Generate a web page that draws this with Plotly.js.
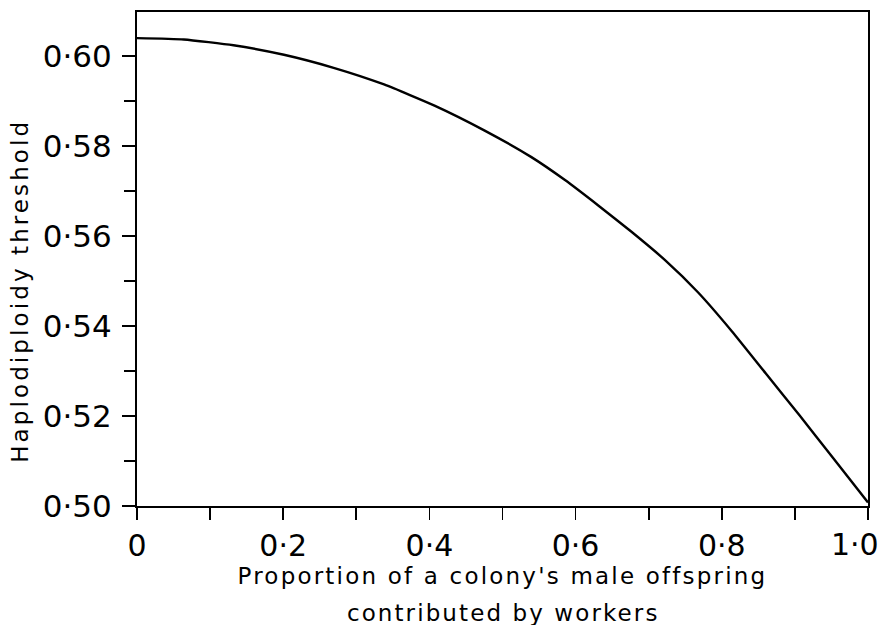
<!DOCTYPE html>
<html>
<head>
<meta charset="utf-8">
<script src="https://cdn.plot.ly/plotly-3.0.1.min.js"></script>
<style>
  html, body { margin: 0; padding: 0; background: #fff; }
  #chart { width: 884px; height: 625px; }
  .xtitle { letter-spacing: 2.2px; }
  g.annotation[data-index="0"] text { letter-spacing: 2.1px; }
  g.annotation[data-index="1"] text { letter-spacing: 3.1px; }
</style>
</head>
<body>
<div id="chart"></div>
<script>
// Proportion of a colony's male offspring contributed by workers
const workerShare = [0, 0.064, 0.132, 0.201, 0.269, 0.338, 0.407, 0.475, 0.539, 0.585, 0.631, 0.676, 0.722, 0.768, 0.814, 0.860, 0.906, 0.952, 1.0];
// Haplodiploidy threshold
const threshold = [0.6040, 0.6037, 0.6024, 0.6003, 0.5974, 0.5937, 0.5890, 0.5835, 0.5776, 0.5725, 0.5668, 0.5610, 0.5547, 0.5474, 0.5388, 0.5295, 0.5202, 0.5107, 0.5008];

const xTickVals = [0, 0.2, 0.4, 0.6, 0.8, 1.0];
const xTickText = ['0', '0·2', '0·4', '0·6', '0·8', '1·0'];
const yTickVals = [0.50, 0.52, 0.54, 0.56, 0.58, 0.60];
const yTickText = ['0·50', '0·52', '0·54', '0·56', '0·58', '0·60'];

const xTitle = "Proportion of a colony's male offspring";
const xTitle2 = 'contributed by workers';
const yTitle = 'Haplodiploidy threshold';

const FONT = 'DejaVu Sans, Liberation Sans, sans-serif';

// The last x tick label sits at the right edge of the page; it is drawn as an
// annotation anchored to the axis value so it stays inside the picture.
const nLast = xTickVals.length - 1;

const trace = {
  x: workerShare,
  y: threshold,
  type: 'scatter',
  mode: 'lines',
  line: { color: '#000', width: 2.4, shape: 'spline', smoothing: 0.5 },
  hoverinfo: 'x+y'
};

const layout = {
  width: 884,
  height: 625,
  margin: { l: 137, r: 16, t: 12, b: 119 },
  paper_bgcolor: '#fff',
  plot_bgcolor: '#fff',
  showlegend: false,
  font: { family: FONT, color: '#000' },
  xaxis: {
    range: [0, 1],
    tickmode: 'array',
    tickvals: xTickVals.slice(0, nLast),
    ticktext: xTickText.slice(0, nLast),
    ticks: 'outside',
    ticklen: 12,
    tickwidth: 1.6,
    tickcolor: '#000',
    minor: { dtick: 0.1, ticks: 'outside', ticklen: 12, tickwidth: 1.6, tickcolor: '#000' },
    showline: true,
    linecolor: '#000',
    linewidth: 2,
    mirror: true,
    showgrid: false,
    zeroline: false,
    tickfont: { family: FONT, size: 30, color: '#000' },
    ticklabelstandoff: 0,
    title: { text: xTitle, font: { family: FONT, size: 23, color: '#000' }, standoff: 1 }
  },
  yaxis: {
    range: [0.5, 0.6098],
    tickmode: 'array',
    tickvals: yTickVals,
    ticktext: yTickText,
    ticks: 'outside',
    ticklen: 13,
    tickwidth: 1.6,
    tickcolor: '#000',
    minor: { dtick: 0.01, ticks: 'outside', ticklen: 11, tickwidth: 1.6, tickcolor: '#000' },
    showline: true,
    linecolor: '#000',
    linewidth: 2,
    mirror: true,
    showgrid: false,
    zeroline: false,
    tickfont: { family: FONT, size: 31, color: '#000' },
    ticklabelstandoff: 4
  },
  annotations: [{
    text: xTitle2,
    xref: 'paper', yref: 'paper',
    x: 0.5, y: -0.216,
    xanchor: 'center', yanchor: 'middle',
    showarrow: false,
    font: { family: FONT, size: 23, color: '#000' }
  }, {
    text: yTitle,
    xref: 'paper', yref: 'paper',
    x: -0.160, y: 0.435,
    xanchor: 'center', yanchor: 'middle',
    textangle: -90,
    showarrow: false,
    font: { family: FONT, size: 23, color: '#000' }
  }, {
    text: xTickText[nLast],
    xref: 'x', yref: 'paper',
    x: xTickVals[nLast], y: -0.078,
    xanchor: 'center', yanchor: 'middle',
    xshift: -13,
    showarrow: false,
    font: { family: FONT, size: 30, color: '#000' }
  }]
};

Plotly.newPlot('chart', [trace], layout, { displayModeBar: false, staticPlot: true });
</script>
</body>
</html>
